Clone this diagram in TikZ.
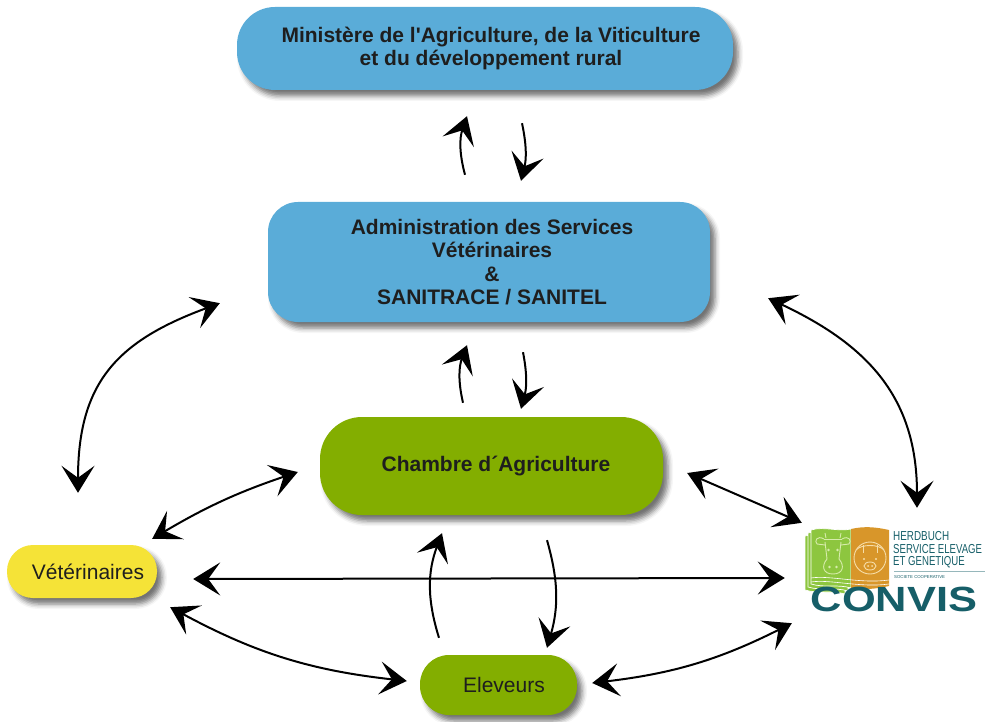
\documentclass[tikz,border=0pt]{standalone}
\usepackage{fontspec}
\newfontfamily\labelfont{Liberation Sans}
\usetikzlibrary{arrows.meta,shadows.blur}
\definecolor{boxblue}{RGB}{90,172,216}
\definecolor{boxgreen}{RGB}{131,174,0}
\definecolor{boxyellow}{RGB}{245,227,55}
\definecolor{inkgray}{RGB}{30,30,30}
\definecolor{logogreen}{RGB}{141,198,63}
\definecolor{logoorange}{RGB}{216,150,42}
\definecolor{cowline}{RGB}{215,236,172}
\definecolor{pigline}{RGB}{246,221,168}
\definecolor{convisteal}{RGB}{22,94,104}
\begin{document}
\begin{tikzpicture}[x=1pt, y=-1pt, >={Stealth[length=27pt, width=33pt, inset=12pt]}]
    \tikzstyle{panel} = [inner sep=0pt, align=center, text=inkgray,
        blur shadow={shadow xshift=5pt, shadow yshift=-6pt, shadow blur radius=5pt, shadow opacity=55}]
    \tikzstyle{bluebox} = [panel, fill=boxblue, font=\labelfont\bfseries\fontsize{21}{23.5}\selectfont]
    \tikzstyle{greenbox} = [panel, fill=boxgreen, font=\labelfont\fontsize{21}{23.5}\selectfont]
    \tikzstyle{yellowbox} = [panel, fill=boxyellow, font=\labelfont\fontsize{21}{23.5}\selectfont]
    \tikzstyle{link} = [line width=2pt, ->]
    \tikzstyle{twoway} = [line width=2pt, <->]
    \tikzstyle{logotext} = [anchor=west, inner sep=0pt, text=convisteal, font=\labelfont\fontsize{13}{13}\selectfont]

    \useasboundingbox (0,0) rectangle (991,722);

    % boxes (text sits a little right of the middle)
    \node[bluebox, minimum width=496pt, minimum height=83pt, rounded corners=38pt] (ministry) at (485,48.5)
        {\hspace*{12pt}Ministère de l'Agriculture, de la Viticulture\\\hspace*{12pt}et du développement rural};
    \node[bluebox, minimum width=442pt, minimum height=120pt, rounded corners=30pt] (adminvet) at (489,262)
        {\hspace*{6pt}Administration des Services\\\hspace*{6pt}Vétérinaires\\\hspace*{6pt}\&\\\hspace*{6pt}SANITRACE / SANITEL};
    \node[greenbox, font=\labelfont\bfseries\fontsize{21}{23.5}\selectfont, minimum width=343pt, minimum height=98pt,
        rounded corners=42pt] (chamber) at (491.5,466) {\hspace*{9pt}Chambre d´Agriculture};
    \node[greenbox, minimum width=157pt, minimum height=60pt, rounded corners=29pt] (farmers) at (498.5,685) {\hspace*{11pt}Eleveurs};
    \node[yellowbox, minimum width=150pt, minimum height=53pt, rounded corners=26pt] (vets) at (82,571.5) {\hspace*{12pt}Vétérinaires};
    \node[minimum width=185pt, minimum height=95pt, inner sep=0pt] (convis) at (892.5,572.5) {};

    % CONVIS logo
    \foreach \d in {6,3,0}
        \filldraw[fill=logogreen, draw=white, line width=0.7pt, shift={(-\d,\d)}]
            (811,530) .. controls (824,526) and (838,532) .. (851,529) -- (851,588)
            .. controls (838,584) and (824,588) .. (811,584) -- cycle;
    \fill[logoorange] (851,529) .. controls (864,526) and (876,527) .. (889,530) -- (889,586)
        .. controls (876,589) and (864,590) .. (851,588) -- cycle;
    \draw[white, line width=0.6pt] (811,578) .. controls (830,575) and (860,584) .. (889,580);
    \draw[white, line width=0.6pt] (811,582) .. controls (830,579) and (860,588) .. (889,584);
    % cow
    \draw[cowline, line width=0.9pt] (824,539) -- (842,539);
    \draw[cowline, line width=0.9pt] (824,539) .. controls (817,535) and (814,541) .. (817,544) -- (825,545);
    \draw[cowline, line width=0.9pt] (842,539) .. controls (849,535) and (852,541) .. (849,544) -- (841,545);
    \draw[cowline, line width=0.9pt] (826,538) -- (825,533);
    \draw[cowline, line width=0.9pt] (840,538) -- (841,533);
    \draw[cowline, line width=0.9pt] (825,542) -- (827,559) .. controls (821,566) and (823,574) .. (833,574)
        .. controls (843,574) and (845,566) .. (839,559) -- (841,542);
    \fill[cowline] (828.5,550) circle (1.4);
    \fill[cowline] (837.5,550) circle (1.4);
    \fill[cowline] (829.5,567) circle (1.3);
    \fill[cowline] (836.5,567) circle (1.3);
    % pig
    \draw[pigline, line width=0.9pt] (870,558) circle (16);
    \draw[pigline, line width=0.9pt] (856,550) .. controls (861,544) and (879,544) .. (884,550);
    \draw[pigline, line width=0.9pt] (863,545) -- (863,553);
    \draw[pigline, line width=0.9pt] (877,545) -- (877,553);
    \draw[pigline, line width=0.9pt] (870,566) ellipse (6 and 4);
    \fill[pigline] (868,566) circle (1);
    \fill[pigline] (872,566) circle (1);
    \fill[pigline] (864,559) circle (1.2);
    \fill[pigline] (876,559) circle (1.2);
    % logo texts
    \node[logotext] (herdbuch) at (893,536) {\scalebox{0.76}[1]{HERDBUCH}};
    \node[logotext] (service) at (893,549) {\scalebox{0.74}[1]{SERVICE ELEVAGE}};
    \node[logotext] (genetique) at (893,562) {\scalebox{0.74}[1]{ET GENETIQUE}};
    \draw[convisteal!45, line width=0.6pt] (894,571) -- (985,571);
    \node[logotext, font=\labelfont\fontsize{4.3}{5}\selectfont] (cooperative) at (894,577) {SOCIETE COOPERATIVE};
    \node[inner sep=0pt, text=convisteal, font=\labelfont\bfseries\fontsize{35}{35}\selectfont] (convisname) at (894,599.5)
        {\scalebox{1.24}[1]{CONVIS}};

    % links between the boxes
    \draw[link] ([shift={(-24,-27)}]adminvet.north) to[bend left=17] ([shift={(-18,26)}]ministry.south);
    \draw[link] ([shift={(37,33)}]ministry.south) to[bend left=13] ([shift={(32,-21)}]adminvet.north);
    \draw[link] ([shift={(-28.5,-14)}]chamber.north) to[bend left=17] ([shift={(-22,23)}]adminvet.south);
    \draw[link] ([shift={(34,30)}]adminvet.south) to[bend left=13] ([shift={(29.5,-8)}]chamber.north);
    \draw[link] ([shift={(-59.5,-17)}]farmers.north) to[bend left=19] ([shift={(-49.5,18)}]chamber.south);
    \draw[link] ([shift={(55.5,25)}]chamber.south) to[bend left=16] ([shift={(48.5,-7)}]farmers.north);

    \draw[twoway] ([shift={(-4,-52)}]vets.north) .. controls +(0,-110) and +(-103,38) .. ([shift={(-48,-19)}]adminvet.south west);
    \draw[twoway] ([shift={(-5,-6)}]vets.north east) to[bend left=6] ([shift={(-22,6)}]chamber.west);
    \draw[twoway] ([shift={(36,7.5)}]vets.east) -- ([shift={(-15,5.5)}]convis.west);
    \draw[twoway] ([shift={(13,9)}]vets.south east) to[bend right=11] ([shift={(-13,-4)}]farmers.west);
    \draw[twoway] ([shift={(24,7)}]chamber.east) -- ([shift={(2,-2)}]convis.north west);
    \draw[twoway] ([shift={(58,-24)}]adminvet.south east) .. controls +(100,47) and +(0,-110) .. ([shift={(24.5,-17)}]convis.north);
    \draw[twoway] ([shift={(15,-2)}]farmers.east) to[bend right=10] ([shift={(-8,3)}]convis.south west);
\end{tikzpicture}
\end{document}
